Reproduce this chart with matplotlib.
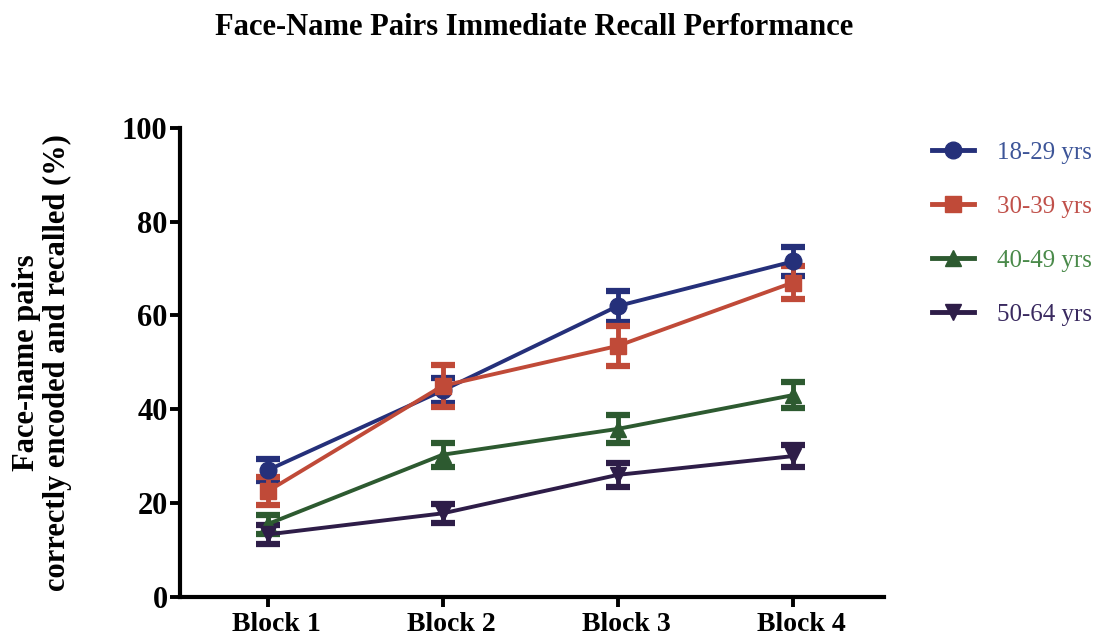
import matplotlib
matplotlib.use("Agg")
import matplotlib.pyplot as plt
from matplotlib.lines import Line2D

# recall scores (mean % and SEM) per learning block, by age group
blocks = ["Block 1", "Block 2", "Block 3", "Block 4"]
groups = ["18-29 yrs", "30-39 yrs", "40-49 yrs", "50-64 yrs"]

mean_18_29 = [27.0, 44.0, 62.0, 71.5]
sem_18_29 = [2.3, 2.6, 3.3, 3.0]
mean_30_39 = [22.5, 45.0, 53.5, 67.0]
sem_30_39 = [3.0, 4.5, 4.3, 3.5]
mean_40_49 = [15.5, 30.3, 35.8, 43.0]
sem_40_49 = [2.0, 2.6, 3.0, 2.8]
mean_50_64 = [13.3, 17.8, 26.0, 30.0]
sem_50_64 = [2.0, 2.0, 2.6, 2.4]

LINE_COLORS = ["#25307a", "#c04a38", "#2d5a30", "#2e1d48"]
TEXT_COLORS = ["#3d5598", "#c0504a", "#4a8a4a", "#3a2a60"]
MARKERS = ["o", "s", "^", "v"]

plt.rcParams["font.family"] = ["Liberation Serif", "DejaVu Serif"]

fig = plt.figure(figsize=(10.98, 6.39), dpi=100)
ax = fig.add_axes([0.164, 0.066, 0.641, 0.734])

x = list(range(len(blocks)))
series = [(mean_18_29, sem_18_29), (mean_30_39, sem_30_39),
          (mean_40_49, sem_40_49), (mean_50_64, sem_50_64)]
for (m, s), col, mk in zip(series, LINE_COLORS, MARKERS):
    ax.errorbar(x, m, yerr=s, color=col, marker=mk, markersize=12,
                linewidth=2.8, elinewidth=3.5, capsize=8.5, capthick=4.5)

ax.set_xlim(-0.5, 3.52)
ax.set_ylim(0, 100)
ax.set_yticks([0, 20, 40, 60, 80, 100])
ax.set_xticks(x)
ax.set_xticklabels([])
# block labels sit a little right of their ticks
for xi, name in zip(x, blocks):
    ax.annotate(name, xy=(xi, 0), xycoords=("data", "axes fraction"),
                xytext=(6, -11), textcoords="offset points",
                ha="center", va="top", fontsize=20, fontweight="bold")
for t in ax.get_yticklabels():
    t.set_fontsize(22)
    t.set_fontweight("bold")
ax.tick_params(axis="both", width=2.8, length=7, pad=2)
ax.spines[["top", "right"]].set_visible(False)
ax.spines["left"].set_linewidth(3)
ax.spines["bottom"].set_linewidth(3)

ax.set_ylabel("Face-name pairs\ncorrectly encoded and recalled (%)",
              fontsize=22, fontweight="bold", labelpad=36, linespacing=1.1)

fig.text(0.486, 0.957, "Face-Name Pairs Immediate Recall Performance",
         ha="center", va="center", fontsize=22, fontweight="bold")

handles = [Line2D([], [], color=c, marker=mk, markersize=12, linewidth=3.5)
           for c, mk in zip(LINE_COLORS, MARKERS)]
leg = ax.legend(handles, groups, loc="upper left",
                bbox_to_anchor=(1.043, 1.008), frameon=False,
                fontsize=18, handlelength=1.7, labelspacing=1.26,
                handletextpad=0.9, borderaxespad=0.3)
for txt, col in zip(leg.get_texts(), TEXT_COLORS):
    txt.set_color(col)

fig.savefig("out.png", dpi=100)
